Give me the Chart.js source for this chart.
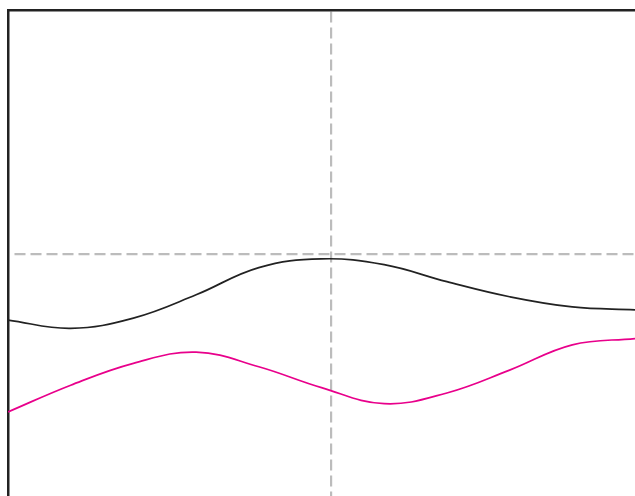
<!DOCTYPE html>
<html>
<head>
<meta charset="utf-8">
<script src="https://cdn.jsdelivr.net/npm/chart.js"></script>
<style>
  html, body { margin: 0; padding: 0; background: #fff; }
  #chart { display: block; }
</style>
</head>
<body>
<canvas id="chart" width="635" height="496"></canvas>
<script>
const xValues = [0, 10, 20, 30, 40, 50, 60, 70, 80, 90, 100];
const blackValues = [36.2, 34.5, 36.6, 41.4, 47.0, 48.8, 47.6, 44.1, 41.0, 38.9, 38.3];
const magentaValues = [17.3, 22.8, 27.3, 29.6, 26.6, 22.3, 19.0, 21.2, 25.9, 31.1, 32.4];
const crossX = [51.5];
const crossY = [49.8];

const toPoints = vals => vals.map((v, i) => ({ x: xValues[i], y: v }));

new Chart(document.getElementById('chart').getContext('2d'), {
  type: 'line',
  data: {
    datasets: [
      {
        data: toPoints(blackValues),
        borderColor: '#222222',
        borderWidth: 1.7,
        pointRadius: 0,
        tension: 0.4
      },
      {
        data: toPoints(magentaValues),
        borderColor: '#e8008b',
        borderWidth: 1.7,
        pointRadius: 0,
        tension: 0.4
      }
    ]
  },
  options: {
    responsive: false,
    animation: false,
    layout: { padding: { left: 8, top: 10, right: 0, bottom: 0 } },
    plugins: { legend: { display: false }, tooltip: { enabled: false } },
    scales: {
      x: {
        type: 'linear',
        position: 'top',
        min: 0,
        max: 100,
        afterBuildTicks: scale => { scale.ticks = crossX.map(v => ({ value: v })); },
        ticks: { display: false },
        grid: { color: '#bcbcbc', lineWidth: 2.2, drawTicks: false },
        border: { display: true, color: '#222222', width: 2.5, dash: [11, 5] }
      },
      y: {
        type: 'linear',
        position: 'left',
        min: 0,
        max: 100,
        afterBuildTicks: scale => { scale.ticks = crossY.map(v => ({ value: v })); },
        ticks: { display: false },
        grid: { color: '#bcbcbc', lineWidth: 2.2, drawTicks: false },
        border: { display: true, color: '#222222', width: 2.5, dash: [11, 5], dashOffset: -5 }
      }
    }
  }
});
</script>
</body>
</html>
